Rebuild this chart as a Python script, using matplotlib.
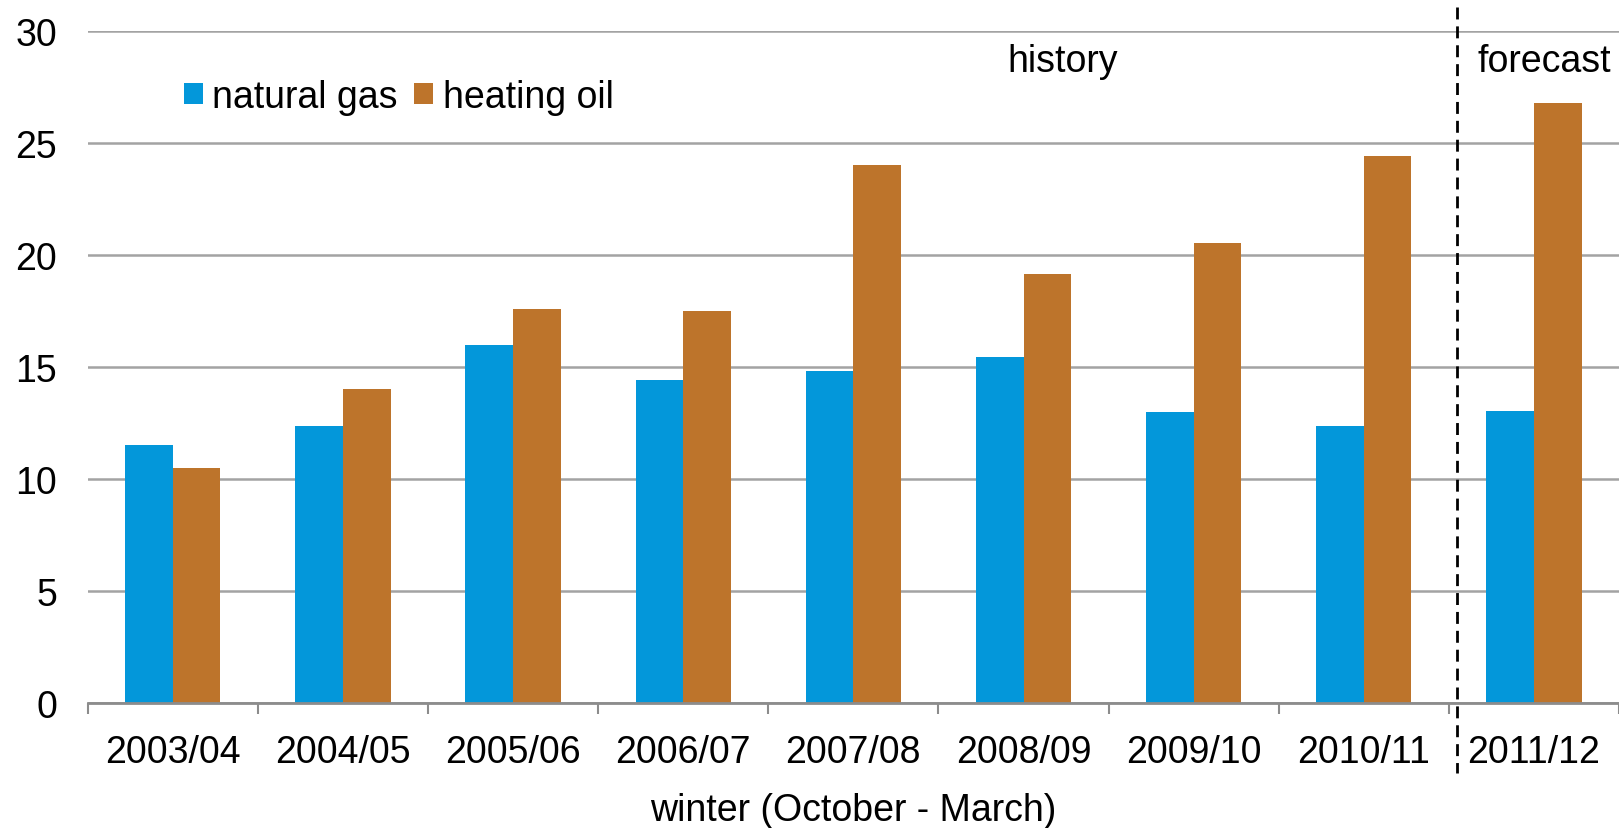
import numpy as np
import matplotlib
matplotlib.use("Agg")
import matplotlib.pyplot as plt
import matplotlib.transforms as mtransforms

winters = ["2003/04", "2004/05", "2005/06", "2006/07", "2007/08",
           "2008/09", "2009/10", "2010/11", "2011/12"]
natural_gas = [11.5, 12.35, 16.0, 14.4, 14.8, 15.45, 13.0, 12.35, 13.05]
heating_oil = [10.5, 14.0, 17.6, 17.5, 24.0, 19.15, 20.55, 24.4, 26.8]

plt.rcParams["font.family"] = ["Liberation Sans", "DejaVu Sans"]
FS = 27

def main():
    fig = plt.figure(figsize=(16.19, 8.29), dpi=100)
    ax = fig.add_axes([0.0542, 0.1508, 0.9458, 0.8106])

    x = np.arange(len(winters))
    w = 0.28
    ax.bar(x - w / 2, natural_gas, w, color="#0397DA", label="natural gas", zorder=3)
    ax.bar(x + w / 2, heating_oil, w, color="#BD742B", label="heating oil", zorder=3)

    ax.set_xlim(-0.5, len(winters) - 0.5)
    ax.set_ylim(0, 30)
    ax.set_yticks(np.arange(0, 31, 5))
    ax.yaxis.grid(True, color="#A3A3A3", linewidth=1.8, zorder=0)
    ax.set_axisbelow(True)

    # category labels at centres, tick marks at the boundaries
    ax.set_xticks(x)
    ax.set_xticklabels(winters, fontsize=FS)
    ax.set_xticks(np.arange(-0.5, len(winters), 1.0), minor=True)
    ax.tick_params(axis="x", which="major", length=0, pad=22)
    ax.tick_params(axis="x", which="minor", length=8, width=1.5,
                   color="#8C8C8C", direction="out")
    ax.tick_params(axis="y", length=0, pad=22, labelsize=FS)

    for s in ["top", "right", "left"]:
        ax.spines[s].set_visible(False)
    ax.spines["bottom"].set_color("#8C8C8C")
    ax.spines["bottom"].set_linewidth(2)
    ax.spines["bottom"].set_zorder(4)

    ax.set_xlabel("winter (October - March)", fontsize=FS, labelpad=16)

    # history / forecast divider
    trans = mtransforms.blended_transform_factory(ax.transData, ax.transAxes)
    ax.plot([7.55, 7.55], [1.036, -0.104], transform=trans, color="black",
            linewidth=2, linestyle=(0, (4.3, 2.5)), clip_on=False, zorder=5)
    ax.text(5.23, 28.65, "history", fontsize=FS, ha="center", va="center")
    ax.text(8.06, 28.65, "forecast", fontsize=FS, ha="center", va="center")

    ax.legend(loc="center left", bbox_to_anchor=(0.065, 27.05),
              bbox_transform=ax.transData, ncol=2, frameon=False,
              fontsize=FS, borderpad=0, borderaxespad=0,
              handlelength=0.5, handleheight=0.5, handletextpad=0.25,
              columnspacing=0.45)

    fig.savefig("out.png", dpi=100)


if __name__ == "__main__":
    main()
